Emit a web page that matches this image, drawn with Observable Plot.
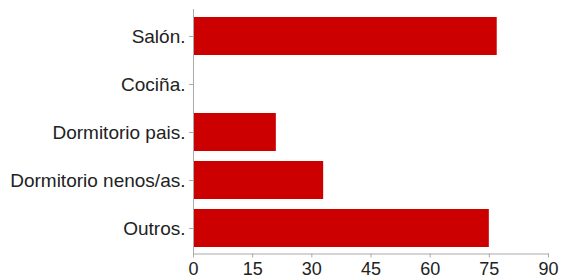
<!DOCTYPE html>
<html>
<head>
<meta charset="utf-8">
<script src="https://cdn.jsdelivr.net/npm/d3@7"></script>
<script src="https://cdn.jsdelivr.net/npm/@observablehq/plot@0.6"></script>
<style>
  html, body { margin: 0; padding: 0; background: #fff; }
</style>
</head>
<body>
<div id="chart"></div>
<script>
const categories = ["Salón.", "Cociña.", "Dormitorio pais.", "Dormitorio nenos/as.", "Outros."];
const values = [77, 0, 21, 33, 75];
const xTicks = [0, 15, 30, 45, 60, 75, 90];

const data = categories.map((c, i) => ({category: c, value: values[i]}));

const chart = Plot.plot({
  width: 561,
  height: 279,
  marginLeft: 193,
  marginRight: 13,
  marginTop: 9,
  marginBottom: 25.5,
  style: {fontFamily: "'Liberation Sans', Arial, Helvetica, sans-serif", fontSize: "19px", color: "#222", background: "#fff"},
  x: {domain: [0, 90], ticks: xTicks},
  y: {domain: categories, paddingInner: 0.2, paddingOuter: 0.1, insetTop: 2.5},
  marks: [
    Plot.barX(data, {x: "value", y: "category", fill: "#cc0000"}),
    Plot.frame({anchor: "left", stroke: "#aaa"}),
    Plot.frame({anchor: "bottom", stroke: "#aaa"}),
    Plot.axisX({ticks: xTicks, tickSize: 4, tickPadding: 4.5, fontSize: 18, stroke: "#aaa", fill: "#222", label: null}),
    Plot.axisY({tickSize: 4, tickPadding: 4, stroke: "#aaa", fill: "#222", label: null})
  ]
});
document.getElementById("chart").appendChild(chart);
</script>
</body>
</html>
